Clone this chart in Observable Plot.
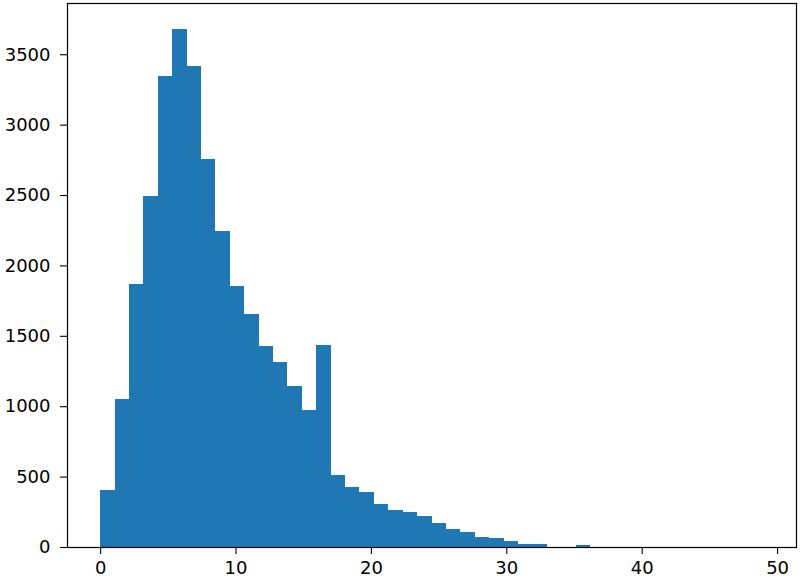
<!DOCTYPE html>
<html>
<head>
<meta charset="utf-8">
<script src="https://cdn.jsdelivr.net/npm/d3@7"></script>
<script src="https://cdn.jsdelivr.net/npm/@observablehq/plot@0.6"></script>
<style>
  html, body { margin: 0; padding: 0; background: #fff; }
</style>
</head>
<body>
<div id="chart"></div>
<script>
// Histogram counts (46 equal-width bins spanning 0 .. 48.95)
const binMin = 0;
const binMax = 48.95;
const counts = [
  406, 1051, 1865, 2495, 3344, 3680, 3418, 2755, 2244, 1856,
  1657, 1425, 1311, 1143, 973, 1434, 514, 428, 388, 303,
  260, 251, 220, 169, 126, 105, 73, 62, 44, 21,
  21, 0, 0, 11, 0, 0, 0, 0, 0, 0,
  0, 0, 0, 0, 0, 0
];
const xTicks = [0, 10, 20, 30, 40, 50];
const yTicks = [0, 500, 1000, 1500, 2000, 2500, 3000, 3500];

const nBins = counts.length;
const w = (binMax - binMin) / nBins;
const bins = counts.map((c, i) => ({ x1: binMin + i * w, x2: binMin + (i + 1) * w, count: c }));

const xPad = (binMax - binMin) * 0.05;
const yMax = d3.max(counts) * 1.05;

const chart = Plot.plot({
  width: 800,
  height: 580,
  marginLeft: 67,
  marginRight: 4,
  marginTop: 3,
  marginBottom: 33,
  style: { fontFamily: "DejaVu Sans", fontSize: "18px", color: "#000", background: "#fff" },
  x: { domain: [binMin - xPad, binMax + xPad], ticks: xTicks, label: null },
  y: { domain: [0, yMax], ticks: yTicks, label: null },
  marks: [
    Plot.rectY(bins, { x1: "x1", x2: "x2", y: "count", fill: "#1f77b4", inset: 0, shapeRendering: "crispEdges" }),
    Plot.axisX({ ticks: xTicks, tickSize: 7, tickPadding: 7, fontSize: 18, tickFormat: d => String(d), label: null, stroke: "#000", strokeWidth: 1.1 }),
    Plot.axisY({ ticks: yTicks, tickSize: 7, tickPadding: 10, fontSize: 18, tickFormat: d => String(d), label: null, stroke: "#000", strokeWidth: 1.1 }),
    Plot.frame({ stroke: "#000", strokeWidth: 1.2 })
  ]
});
document.getElementById("chart").appendChild(chart);
</script>
</body>
</html>
